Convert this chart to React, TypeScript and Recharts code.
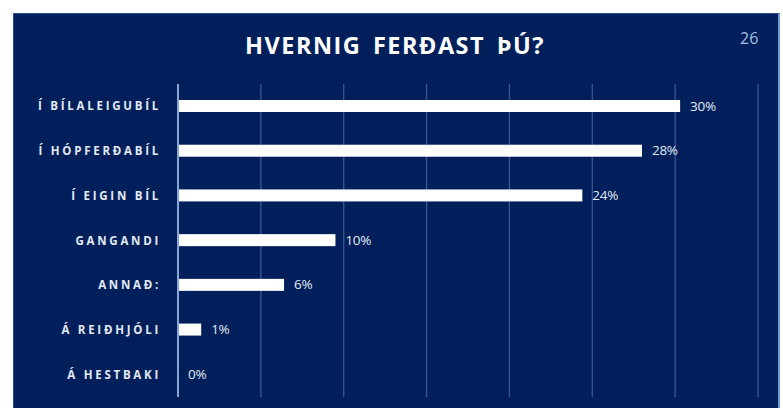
import React from "react";
import { BarChart, Bar, XAxis, YAxis, CartesianGrid } from "recharts";

const categories = [
  "Í BÍLALEIGUBÍL",
  "Í HÓPFERÐABÍL",
  "Í EIGIN BÍL",
  "GANGANDI",
  "ANNAÐ:",
  "Á REIÐHJÓLI",
  "Á HESTBAKI",
];
const values = [30.3, 28.0, 24.4, 9.5, 6.4, 1.4, 0];
const xTicks = [0, 5, 10, 15, 20, 25, 30, 35];
const title = "HVERNIG FERÐAST ÞÚ?";
const pageNumber = "26";

const data = categories.map((name, i) => ({ name, value: values[i] }));

const NAVY = "#001f5b";

const CategoryTick = (props: any) => {
  const { x, y, payload } = props;
  return (
    <text
      x={x - 9}
      y={y}
      dy={4}
      textAnchor="end"
      fill="#e4eaf4"
      fontFamily="'Open Sans', sans-serif"
      fontWeight={700}
      fontSize={11.5}
      letterSpacing={2.75}
    >
      {payload.value}
    </text>
  );
};

const BarWithLabel = (props: any) => {
  const { x, y, width, height, value } = props;
  const w = Math.max(0, Number(width) || 0);
  const v = Array.isArray(value) ? value[1] - value[0] : value;
  return (
    <g>
      {w > 0 && <rect x={x} y={y} width={w} height={height} fill="#ffffff" />}
      <text
        x={Number(x) + w + 10}
        y={Number(y) + Number(height) / 2}
        dy={4.5}
        textAnchor="start"
        fill="#e4eaf4"
        fontFamily="'Open Sans', sans-serif"
        fontSize={13.5}
        letterSpacing={-0.3}
      >
        {`${Math.round(Number(v))}%`}
      </text>
    </g>
  );
};

export default function App() {
  return (
    <div
      style={{
        position: "absolute",
        left: 0,
        top: 0,
        width: 783,
        height: 408,
        background: "#ffffff",
        overflow: "hidden",
      }}
    >
      <div
        style={{
          position: "absolute",
          left: 13,
          top: 13,
          width: 764,
          height: 400,
          background: NAVY,
          borderRight: "2px solid #6f9ad8",
          borderTop: "1px solid #2a4f8f",
          borderLeft: "1px solid #2a4f8f",
        }}
      />
      <div
        style={{
          position: "absolute",
          left: 0,
          width: 790,
          top: 30,
          textAlign: "center",
          color: "#ffffff",
          fontFamily: "'Open Sans', sans-serif",
          fontWeight: 700,
          fontSize: 23.5,
          letterSpacing: 1.5,
          wordSpacing: 4,
          lineHeight: "30px",
        }}
      >
        {title}
      </div>
      <div
        style={{
          position: "absolute",
          left: 740,
          top: 28,
          color: "#a9bfe0",
          fontFamily: "'Open Sans', sans-serif",
          fontSize: 16,
          lineHeight: "20px",
        }}
      >
        {pageNumber}
      </div>
      <div style={{ position: "absolute", left: 0, top: 0 }}>
        <BarChart
          width={783}
          height={408}
          data={data}
          layout="vertical"
          margin={{ top: 84, right: 25, bottom: 11, left: 0 }}
          barCategoryGap={0}
        >
          <CartesianGrid horizontal={false} vertical={true} stroke="#3a5890" strokeWidth={1.3} />
          <XAxis type="number" domain={[0, 35]} ticks={xTicks} hide />
          <YAxis
            type="category"
            dataKey="name"
            width={178}
            axisLine={{ stroke: "#86a5d6", strokeWidth: 2 }}
            tickLine={false}
            tick={<CategoryTick />}
            interval={0}
          />
          <Bar
            dataKey="value"
            fill="#ffffff"
            barSize={12}
            isAnimationActive={false}
            shape={<BarWithLabel />}
          />
        </BarChart>
      </div>
    </div>
  );
}
